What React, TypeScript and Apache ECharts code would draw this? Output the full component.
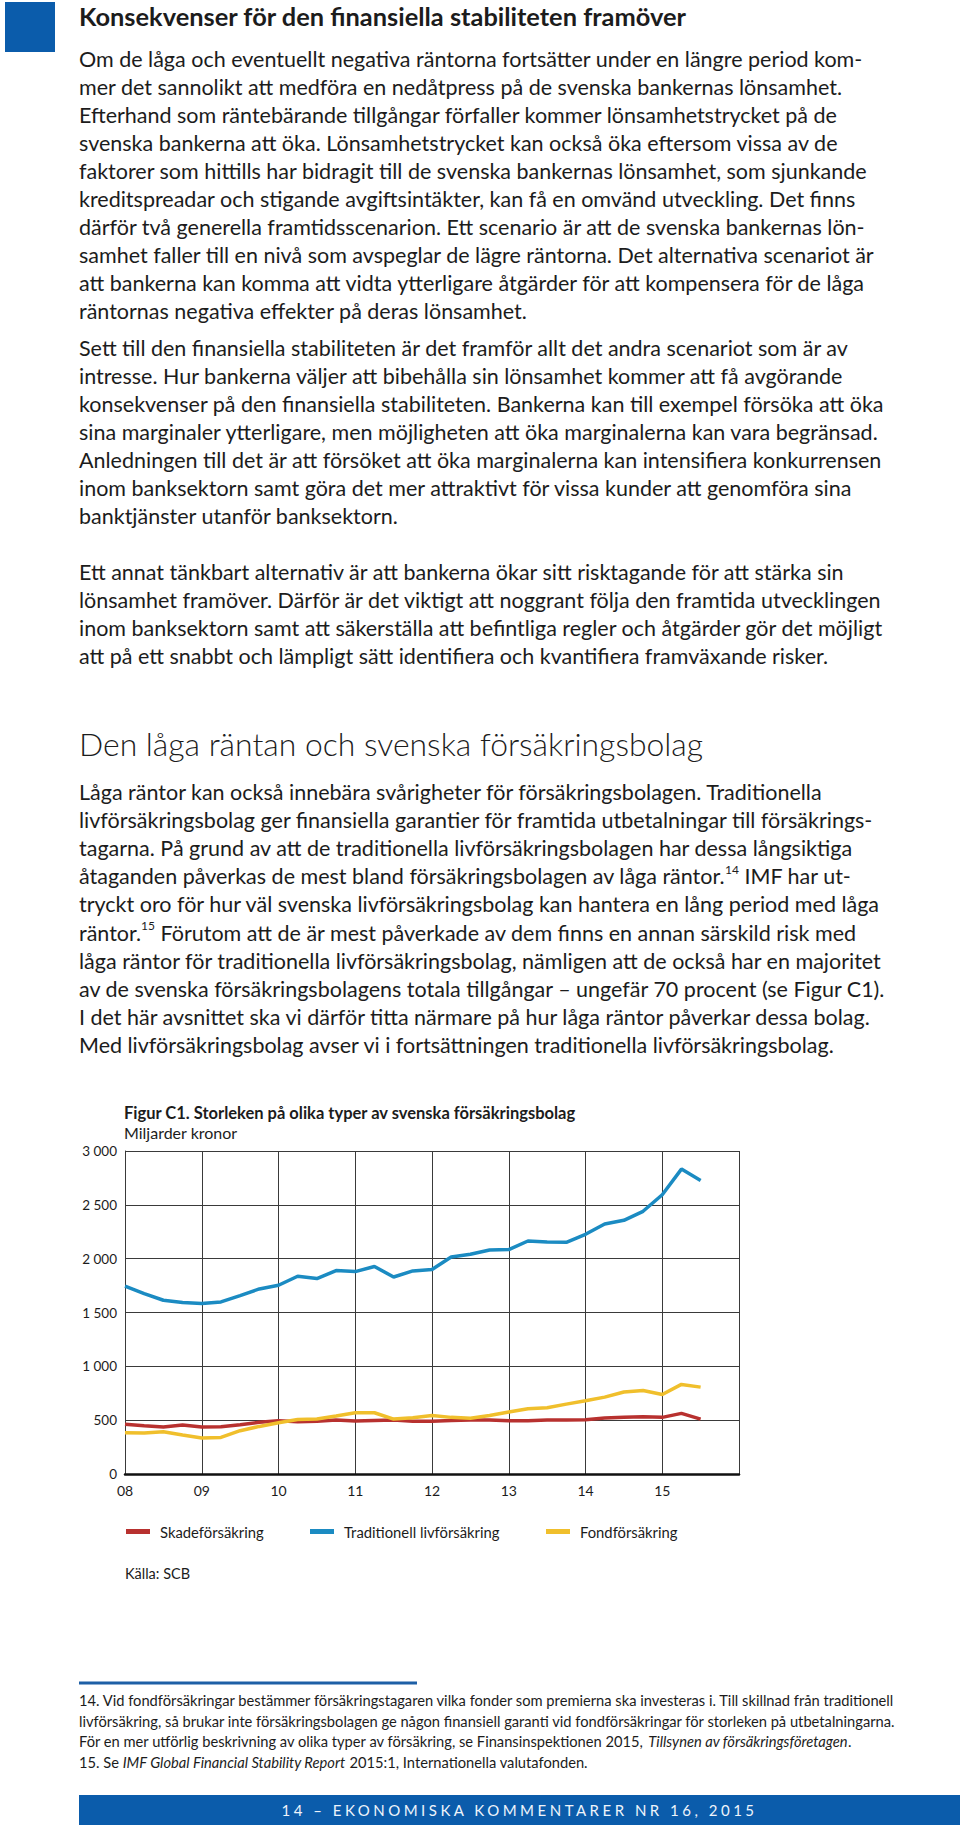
import React, { useEffect, useRef } from "react";
import * as echarts from "echarts";

// ---------- Page text ----------
const heading1 = "Konsekvenser för den finansiella stabiliteten framöver";
const para1 = [
  "Om de låga och eventuellt negativa räntorna fortsätter under en längre period kom-",
  "mer det sannolikt att medföra en nedåtpress på de svenska bankernas lönsamhet.",
  "Efterhand som räntebärande tillgångar förfaller kommer lönsamhetstrycket på de",
  "svenska bankerna att öka. Lönsamhetstrycket kan också öka eftersom vissa av de",
  "faktorer som hittills har bidragit till de svenska bankernas lönsamhet, som sjunkande",
  "kreditspreadar och stigande avgiftsintäkter, kan få en omvänd utveckling. Det finns",
  "därför två generella framtidsscenarion. Ett scenario är att de svenska bankernas lön-",
  "samhet faller till en nivå som avspeglar de lägre räntorna. Det alternativa scenariot är",
  "att bankerna kan komma att vidta ytterligare åtgärder för att kompensera för de låga",
  "räntornas negativa effekter på deras lönsamhet.",
];
const para2 = [
  "Sett till den finansiella stabiliteten är det framför allt det andra scenariot som är av",
  "intresse. Hur bankerna väljer att bibehålla sin lönsamhet kommer att få avgörande",
  "konsekvenser på den finansiella stabiliteten. Bankerna kan till exempel försöka att öka",
  "sina marginaler ytterligare, men möjligheten att öka marginalerna kan vara begränsad.",
  "Anledningen till det är att försöket att öka marginalerna kan intensifiera konkurrensen",
  "inom banksektorn samt göra det mer attraktivt för vissa kunder att genomföra sina",
  "banktjänster utanför banksektorn.",
];
const para3 = [
  "Ett annat tänkbart alternativ är att bankerna ökar sitt risktagande för att stärka sin",
  "lönsamhet framöver. Därför är det viktigt att noggrant följa den framtida utvecklingen",
  "inom banksektorn samt att säkerställa att befintliga regler och åtgärder gör det möjligt",
  "att på ett snabbt och lämpligt sätt identifiera och kvantifiera framväxande risker.",
];
const heading2 = "Den låga räntan och svenska försäkringsbolag";
const para4 = [
  "Låga räntor kan också innebära svårigheter för försäkringsbolagen. Traditionella",
  "livförsäkringsbolag ger finansiella garantier för framtida utbetalningar till försäkrings-",
  "tagarna. På grund av att de traditionella livförsäkringsbolagen har dessa långsiktiga",
  "åtaganden påverkas de mest bland försäkringsbolagen av låga räntor.{sup|14} IMF har ut-",
  "tryckt oro för hur väl svenska livförsäkringsbolag kan hantera en lång period med låga",
  "räntor.{sup|15} Förutom att de är mest påverkade av dem finns en annan särskild risk med",
  "låga räntor för traditionella livförsäkringsbolag, nämligen att de också har en majoritet",
  "av de svenska försäkringsbolagens totala tillgångar – ungefär 70 procent (se Figur C1).",
  "I det här avsnittet ska vi därför titta närmare på hur låga räntor påverkar dessa bolag.",
  "Med livförsäkringsbolag avser vi i fortsättningen traditionella livförsäkringsbolag.",
];
const footnotes = [
  "14. Vid fondförsäkringar bestämmer försäkringstagaren vilka fonder som premierna ska investeras i. Till skillnad från traditionell",
  "livförsäkring, så brukar inte försäkringsbolagen ge någon finansiell garanti vid fondförsäkringar för storleken på utbetalningarna.",
  "För en mer utförlig beskrivning av olika typer av försäkring, se Finansinspektionen 2015, {i|Tillsynen av försäkringsföretagen}.",
  "15. Se {i|IMF Global Financial Stability Report} 2015:1, Internationella valutafonden.",
];
const footerText = "14 – EKONOMISKA KOMMENTARER NR 16, 2015";

// ---------- Chart data ----------
const chartTitle = "Figur C1. Storleken på olika typer av svenska försäkringsbolag";
const chartSubtitle = "Miljarder kronor";
const source = "Källa: SCB";
const quarters = [
  "08Q1", "08Q2", "08Q3", "08Q4", "09Q1", "09Q2", "09Q3", "09Q4",
  "10Q1", "10Q2", "10Q3", "10Q4", "11Q1", "11Q2", "11Q3", "11Q4",
  "12Q1", "12Q2", "12Q3", "12Q4", "13Q1", "13Q2", "13Q3", "13Q4",
  "14Q1", "14Q2", "14Q3", "14Q4", "15Q1", "15Q2", "15Q3", "15Q4", "16Q1",
];
const seriesNames = ["Skadeförsäkring", "Traditionell livförsäkring", "Fondförsäkring"];
const skadeforsakring = [
  461, 448, 436, 455, 436, 439, 458, 480, 495, 486, 489, 501, 492, 498, 501, 489,
  489, 498, 501, 501, 495, 495, 501, 501, 504, 520, 526, 532, 526, 563, 510,
];
const traditionellLiv = [
  1744, 1676, 1614, 1593, 1583, 1598, 1657, 1719, 1753, 1837, 1815, 1889, 1880, 1927, 1830, 1886,
  1899, 2016, 2041, 2081, 2084, 2164, 2155, 2152, 2226, 2322, 2356, 2440, 2594, 2832, 2727,
];
const fondforsakring = [
  383, 380, 393, 362, 334, 340, 402, 442, 476, 507, 510, 538, 569, 569, 510, 523,
  544, 526, 517, 544, 575, 606, 615, 649, 680, 714, 761, 776, 739, 832, 807,
];
const seriesColors = ["#b8312f", "#1b8bc2", "#f0bf2c"];

const FONT = "Lato, 'Open Sans', sans-serif";
const TEXT = "#1c1c1c";

function lineTexts(lines: string[], x: number, y0: number, step: number, size: number, extra: any = {}) {
  return lines.map((t, i) => ({
    type: "text",
    x,
    y: y0 + i * step,
    silent: true,
    style: {
      text: t,
      fill: TEXT,
      fontFamily: FONT,
      fontSize: size,
      fontWeight: 400,
      textAlign: "left",
      textVerticalAlign: "middle",
      align: "left",
      verticalAlign: "middle",
      ...extra,
    },
  }));
}

export default function App() {
  const ref = useRef<HTMLDivElement>(null);
  useEffect(() => {
    if (!ref.current) return;
    const chart = echarts.init(ref.current, undefined, { renderer: "svg" });
    const bodySize = 21.5;
    const step = 28;
    const graphics: any[] = [
      { type: "rect", shape: { x: 5, y: 2, width: 50, height: 50 }, style: { fill: "#0b5cab" }, silent: true },
      ...lineTexts([heading1], 79, 16, 0, 25.4, { fontWeight: 700 }),
      ...lineTexts(para1, 79, 59, step, bodySize),
      ...lineTexts(para2, 79, 348, step, bodySize),
      ...lineTexts(para3, 79, 572, step, bodySize),
      ...lineTexts([heading2], 79, 744, 0, 31.9, { fontWeight: 300 }),
      ...lineTexts(para4, 79, 792, 28.1, bodySize, {
        rich: { sup: { fontSize: 12, fontFamily: FONT, fill: TEXT, verticalAlign: "top", lineHeight: 26 } },
      }),
      ...lineTexts(footnotes, 79, 1700, 20.7, 14.7, {
        rich: { i: { fontStyle: "italic", fontSize: 14.7, fontFamily: FONT, fill: TEXT } },
      }),
      { type: "line", shape: { x1: 79, y1: 1683, x2: 417, y2: 1683 }, style: { stroke: "#1d5fa6", lineWidth: 3 }, silent: true },
      { type: "rect", shape: { x: 79, y: 1795, width: 881, height: 30 }, style: { fill: "#0b5cab" }, silent: true },
    ];

    chart.setOption({
      animation: false,
      textStyle: { fontFamily: FONT },
      title: {
        text: chartTitle,
        subtext: chartSubtitle,
        left: 124,
        top: 1104,
        itemGap: 3,
        padding: 0,
        textStyle: { fontSize: 16.5, fontWeight: 700, color: TEXT, fontFamily: FONT },
        subtextStyle: { fontSize: 16, color: TEXT, fontFamily: FONT },
      },
      legend: seriesNames.map((n, i) => ({
        data: [n],
        left: [126, 310, 546][i],
        top: 1524,
        icon: "rect",
        itemWidth: 24,
        itemHeight: 5,
        padding: 0,
        textStyle: { fontSize: 14.8, color: TEXT, fontFamily: FONT, padding: [0, 0, 0, 5] },
        selectedMode: false,
      })),
      grid: { left: 125, top: 1151, width: 614, height: 323, containLabel: false },
      xAxis: {
        type: "category",
        data: quarters,
        boundaryGap: false,
        axisLine: { show: true, lineStyle: { color: "#111", width: 2.5 } },
        axisTick: { show: false },
        axisLabel: {
          interval: 3,
          margin: 9,
          fontSize: 14,
          color: TEXT,
          fontFamily: FONT,
          formatter: (v: string) => (v.endsWith("Q1") && v !== "16Q1" ? v.slice(0, 2) : ""),
        },
        splitLine: { show: true, interval: 3, lineStyle: { color: "#3a3a3a", width: 1 } },
      },
      yAxis: {
        type: "value",
        min: 0,
        max: 3000,
        interval: 500,
        axisLine: { show: true, lineStyle: { color: "#3a3a3a", width: 1 } },
        axisTick: { show: false },
        axisLabel: {
          margin: 8,
          fontSize: 13.5,
          color: TEXT,
          fontFamily: FONT,
          formatter: (v: number) =>
            v >= 1000 ? `${Math.floor(v / 1000)} ${String(v % 1000).padStart(3, "0")}` : String(v),
        },
        splitLine: { show: true, lineStyle: { color: "#3a3a3a", width: 1 } },
      },
      series: [skadeforsakring, traditionellLiv, fondforsakring].map((d, i) => ({
        name: seriesNames[i],
        type: "line",
        data: d,
        showSymbol: false,
        symbol: "none",
        lineStyle: { width: 3.5, color: seriesColors[i] },
        itemStyle: { color: seriesColors[i] },
        z: [3, 2, 4][i],
      })),
      graphic: [
        ...graphics,
        {
          type: "text",
          x: 125,
          y: 1573,
          silent: true,
          style: { text: source, fill: TEXT, fontFamily: FONT, fontSize: 14.5, textVerticalAlign: "middle", verticalAlign: "middle" },
        },
      ],
    });
    return () => chart.dispose();
  }, []);

  return (
    <div style={{ position: "absolute", left: 0, top: 0, width: 960, height: 1837, background: "#fff" }}>
      <div ref={ref} style={{ position: "absolute", left: 0, top: 0, width: 960, height: 1837 }} />
      <div
        style={{
          position: "absolute",
          left: 79,
          top: 1795,
          width: 881,
          height: 30,
          lineHeight: "30px",
          textAlign: "center",
          color: "#eef4fb",
          fontFamily: FONT,
          fontSize: 15,
          letterSpacing: "3.5px",
          pointerEvents: "none",
        }}
      >
        {footerText}
      </div>
    </div>
  );
}
